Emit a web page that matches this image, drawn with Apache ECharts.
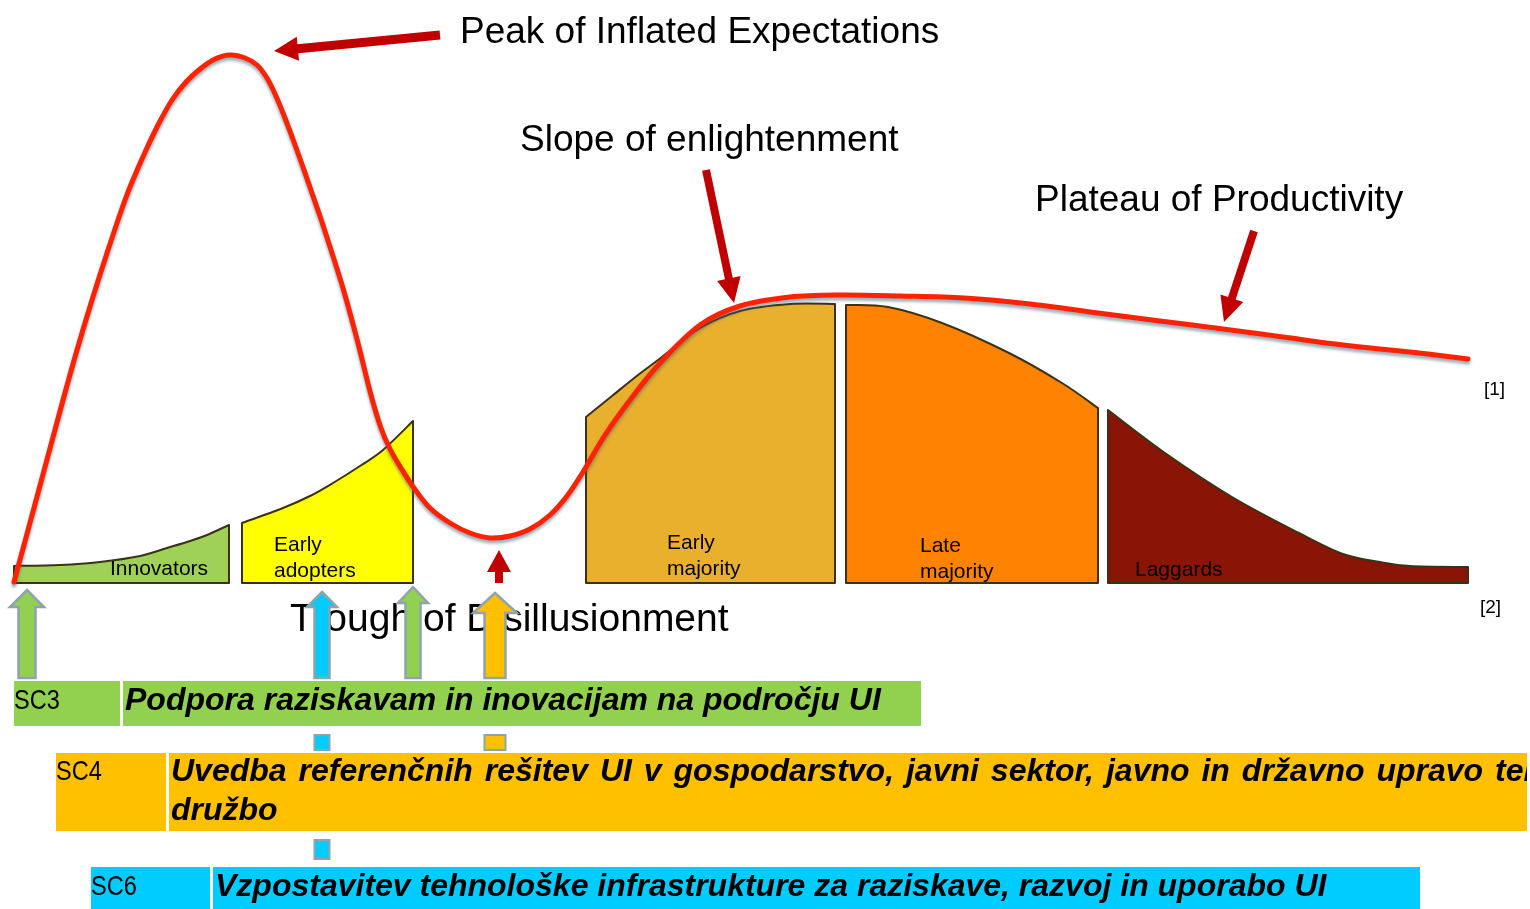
<!DOCTYPE html>
<html><head><meta charset="utf-8">
<script src="https://cdn.jsdelivr.net/npm/echarts@6/dist/echarts.min.js"></script>
<style>html,body{margin:0;padding:0;background:#fff}#c{width:1530px;height:909px}</style>
</head><body><div id="c"></div>
<script>
// ---------- DATA (in chart units) ----------
const hypeCurve = [[14,582],[38,493],[63,400],[77,350],[92,300],[108,250],[125,200],[135,175],[146,150],[158,125],[172,100],[186,82],[200,69],[215,59],[230,55],[245,58],[257,65],[267,78],[276,96],[285,118],[294,142],[303,167],[312,193],[322,222],[333,256],[345,295],[358,343],[371,395],[381,428],[390,449],[401,468],[414,488],[430,508],[450,523],[470,533],[490,538],[510,536],[530,529],[550,515],[567,496],[583,472],[605,435],[630,400],[660,363],[700,325],[740,306],[790,297],[840,295],[900,296],[964,298],[1030,304],[1098,313],[1160,321],[1223,329],[1283,337],[1343,345],[1410,352],[1468,359]];

const segmentNames = ['Innovators','Early adopters','Early majority','Late majority','Laggards'];
const innovatorsTop    = [[14,566],[60,565],[100,562],[140,556],[167,548],[190,541],[207,535],[229,525]];
const earlyAdoptersTop = [[242,523],[283,508],[310,496],[333,483],[360,466],[383,450],[413,421]];
const earlyMajorityTop = [[586,417],[612,396],[638,375],[662,357],[700,328],[740,311],[790,304],[835,304]];
const lateMajorityTop  = [[846,305],[888,307],[942,323],[1009,353],[1062,383],[1098,408]];
const laggardsTop      = [[1108,410],[1165,453],[1232,497],[1299,533],[1343,554],[1380,562],[1410,566],[1468,567]];
const segmentBase = 583;

const stageLabelLines = [['Innovators'],['Early','adopters'],['Early','majority'],['Late','majority'],['Laggards']];
const stageLabelPos = [[110,569],[274,545],[667,543],[920,546],[1135,570]];

const phaseTexts = ['Peak of Inflated Expectations','Slope of enlightenment','Plateau of Productivity','Trough of Disillusionment'];
const phasePos = [[460,33],[520,141],[1035,201],[290,620]];
const phaseSize = [37,37,37,39];

const refTexts = ['[1]','[2]'];
const refPos = [[1484,390],[1480,608]];

const redArrowFrom = [[440,35],[706,170],[1254,231],[499,583]];
const redArrowTo   = [[274,51],[734,303],[1224,322],[499,550]];

const blockArrowX    = [27,322,413,495];
const blockArrowTipY = [590,592,587,593];
const blockArrowEndY = [678,678,678,678];
const blockArrowColor = ['#92d050','#00ccff','#92d050','#ffc000'];

const connectorX = [322,495,322];
const connectorY = [[735,750],[735,750],[840,859]];
const connectorColor = ['#00ccff','#ffc000','#00ccff'];

const barLabels = ['SC3','SC4','SC6'];
const barTexts = [
  ['Podpora raziskavam in inovacijam na področju UI'],
  ['Uvedba referenčnih rešitev UI v gospodarstvo, javni sektor, javno in državno upravo ter','družbo'],
  ['Vzpostavitev tehnološke infrastrukture za raziskave, razvoj in uporabo UI']
];
const barJustifyTo = [null, [1536, null], null];   // justified first line of SC4 (cut at box edge)
const barLabelX = [[14,120],[56,166],[91,210]];
const barTextX  = [[123,921],[169,1527],[213,1420]];
const barY      = [[681,726],[753,831],[867,909]];
const barColors = ['#92d050','#ffc000','#00ccff'];

// ---------- STYLES ----------
const segmentColors = ['#9fd057','#ffff00','#e9b02e','#ff8300','#8a1506'];
const segmentStroke = '#3b3215';
const fontMain = '"Liberation Sans", Arial, sans-serif';

// ---------- HELPERS ----------
function smoothPath(pts){
  let d = '';
  for (let i=0;i<pts.length-1;i++){
    const p0 = pts[i-1]||pts[i], p1=pts[i], p2=pts[i+1], p3=pts[i+2]||pts[i+1];
    const c1=[p1[0]+(p2[0]-p0[0])/6, p1[1]+(p2[1]-p0[1])/6];
    const c2=[p2[0]-(p3[0]-p1[0])/6, p2[1]-(p3[1]-p1[1])/6];
    d += ' C'+c1[0]+' '+c1[1]+' '+c2[0]+' '+c2[1]+' '+p2[0]+' '+p2[1];
  }
  return d;
}
function txt(api, p, text, font, opt){
  opt = opt||{};
  const c = api.coord(p);
  return {type:'text', x:c[0], y:c[1], scaleX: opt.scaleX||1,
    style:{text:text, x:0, y:0, font:font, fill:opt.fill||'#000',
      align:opt.align||'left', verticalAlign:'middle', textAlign:opt.align||'left', textVerticalAlign:'middle'}};
}
function arrowPoly(a,b,sw,hl,hw){
  const dx=b[0]-a[0], dy=b[1]-a[1], L=Math.hypot(dx,dy);
  const u=[dx/L,dy/L], n=[-u[1],u[0]];
  const hb=[b[0]-u[0]*hl, b[1]-u[1]*hl];
  const P=(p,k)=>[p[0]+n[0]*k,p[1]+n[1]*k];
  return [P(a,sw/2),P(hb,sw/2),P(hb,hw/2),b,P(hb,-hw/2),P(hb,-sw/2),P(a,-sw/2)];
}
const measureCtx = document.createElement('canvas').getContext('2d');
function justifiedWords(api, text, x0, x1, y, font){
  measureCtx.font = font;
  const words = text.split(' ');
  const widths = words.map(w=>measureCtx.measureText(w).width);
  const p0 = api.coord([x0,y]), p1 = api.coord([x1,y]);
  const total = widths.reduce((a,b)=>a+b,0);
  const gap = (p1[0]-p0[0]-total)/(words.length-1);
  const out = [];
  let x = p0[0];
  words.forEach((w,i)=>{
    out.push({type:'text', x:x, y:p0[1], style:{text:w, x:0, y:0, font:font, fill:'#000', align:'left', verticalAlign:'middle', textAlign:'left', textVerticalAlign:'middle'}});
    x += widths[i] + gap;
  });
  return out;
}

const segmentTops = [innovatorsTop, earlyAdoptersTop, earlyMajorityTop, lateMajorityTop, laggardsTop];

const chart = echarts.init(document.getElementById('c'), null, {renderer:'canvas'});
chart.setOption({
  animation:false,
  backgroundColor:'#ffffff',
  grid:{left:0,right:0,top:0,bottom:0},
  xAxis:{type:'value',min:0,max:1530,show:false},
  yAxis:{type:'value',min:0,max:909,inverse:true,show:false},
  series:[
    { // adoption segments
      type:'custom', z:1, data:[[0,0]],
      renderItem:(params, api)=>{
        const children = segmentTops.map((top,i)=>{
          const pts = top.map(p=>api.coord(p));
          const bl = api.coord([top[0][0], segmentBase]);
          const br = api.coord([top[top.length-1][0], segmentBase]);
          const d = 'M'+bl[0]+' '+bl[1]+' L'+pts[0][0]+' '+pts[0][1]+smoothPath(pts)+' L'+br[0]+' '+br[1]+' Z';
          return {type:'path', shape:{pathData:d}, style:{fill:segmentColors[i], stroke:segmentStroke, lineWidth:2, lineJoin:'round'}};
        });
        stageLabelLines.forEach((lines,i)=>{
          lines.forEach((t,j)=>{
            children.push(txt(api,[stageLabelPos[i][0], stageLabelPos[i][1]+26*j], t, '21px '+fontMain));
          });
        });
        return {type:'group', children};
      }
    },
    { // hype cycle curve
      type:'custom', z:3, data:[[0,0]],
      renderItem:(params, api)=>{
        const pts = hypeCurve.map(p=>api.coord(p));
        const d = 'M'+pts[0][0]+' '+pts[0][1]+smoothPath(pts);
        return {type:'path', shape:{pathData:d}, style:{fill:null, stroke:'#ff2200', lineWidth:5, lineCap:'round', lineJoin:'round',
          shadowColor:'rgba(60,95,115,0.5)', shadowBlur:3, shadowOffsetY:3}};
      }
    },
    { // texts, arrows, bars
      type:'custom', z:5, data:[[0,0]],
      renderItem:(params, api)=>{
        const ch = [];
        phaseTexts.forEach((t,i)=>ch.push(txt(api, phasePos[i], t, phaseSize[i]+'px '+fontMain)));
        refTexts.forEach((t,i)=>ch.push(txt(api, refPos[i], t, '19px '+fontMain)));
        const redSizes = [[9,24,24],[8,25,24],[8,25,24],[8,22,24]];
        redArrowFrom.forEach((a,i)=>{
          const pa = api.coord(a), pb = api.coord(redArrowTo[i]);
          ch.push({type:'polygon', shape:{points:arrowPoly(pa,pb,...redSizes[i])}, style:{fill:'#c00000'}});
        });
        const blockSizes = [[8.5,17,17],[7.5,15,15],[7.5,16,15],[10.5,20,22]];
        blockArrowX.forEach((x,i)=>{
          const [sh,hl,hh] = blockSizes[i];
          const tip = api.coord([x, blockArrowTipY[i]]);
          const end = api.coord([x, blockArrowEndY[i]]);
          const hy = tip[1]+hl;
          const pts = [[tip[0],tip[1]],[tip[0]+hh,hy],[tip[0]+sh,hy],[tip[0]+sh,end[1]],[tip[0]-sh,end[1]],[tip[0]-sh,hy],[tip[0]-hh,hy]];
          ch.push({type:'polygon', shape:{points:pts}, style:{fill:blockArrowColor[i], stroke:'#8fa3ad', lineWidth:2.5, lineJoin:'miter'}});
        });
        connectorX.forEach((x,i)=>{
          const w = (connectorColor[i]==='#ffc000') ? 10.5 : 7.5;
          const a = api.coord([x, connectorY[i][0]]), b = api.coord([x, connectorY[i][1]]);
          ch.push({type:'rect', shape:{x:a[0]-w, y:a[1], width:2*w, height:b[1]-a[1]}, style:{fill:connectorColor[i], stroke:'#8fa3ad', lineWidth:2}});
        });
        barLabels.forEach((lab,i)=>{
          const l0 = api.coord([barLabelX[i][0], barY[i][0]]), l1 = api.coord([barLabelX[i][1], barY[i][1]]);
          const t0 = api.coord([barTextX[i][0], barY[i][0]]), t1 = api.coord([barTextX[i][1], barY[i][1]]);
          ch.push({type:'rect', shape:{x:l0[0], y:l0[1], width:l1[0]-l0[0], height:l1[1]-l0[1]}, style:{fill:barColors[i]}});
          ch.push({type:'rect', shape:{x:t0[0], y:t0[1], width:t1[0]-t0[0], height:t1[1]-t0[1]}, style:{fill:barColors[i]}});
          const ly = barY[i][0] + (i===1 ? 19 : 20);
          ch.push(txt(api, [barLabelX[i][0], ly], lab, '28px '+fontMain, {scaleX:0.84}));
          barTexts[i].forEach((t,j)=>{
            const f = 'italic bold 32px '+fontMain;
            const jt = barJustifyTo[i] && barJustifyTo[i][j];
            if (jt) ch.push(...justifiedWords(api, t, barTextX[i][0]+2, jt, ly + 39*j, f));
            else ch.push(txt(api, [barTextX[i][0]+2, ly + 39*j], t, f));
          });
          if (barJustifyTo[i]) {
            // clip overflowing text at the box edge
            const e0 = api.coord([barTextX[i][1], barY[i][0]-2]), e1 = api.coord([1530, barY[i][1]+2]);
            ch.push({type:'rect', z2:10, shape:{x:e0[0], y:e0[1], width:e1[0]-e0[0]+5, height:e1[1]-e0[1]}, style:{fill:'#ffffff'}});
          }
        });
        return {type:'group', children:ch};
      }
    }
  ]
});
</script>
</body></html>
